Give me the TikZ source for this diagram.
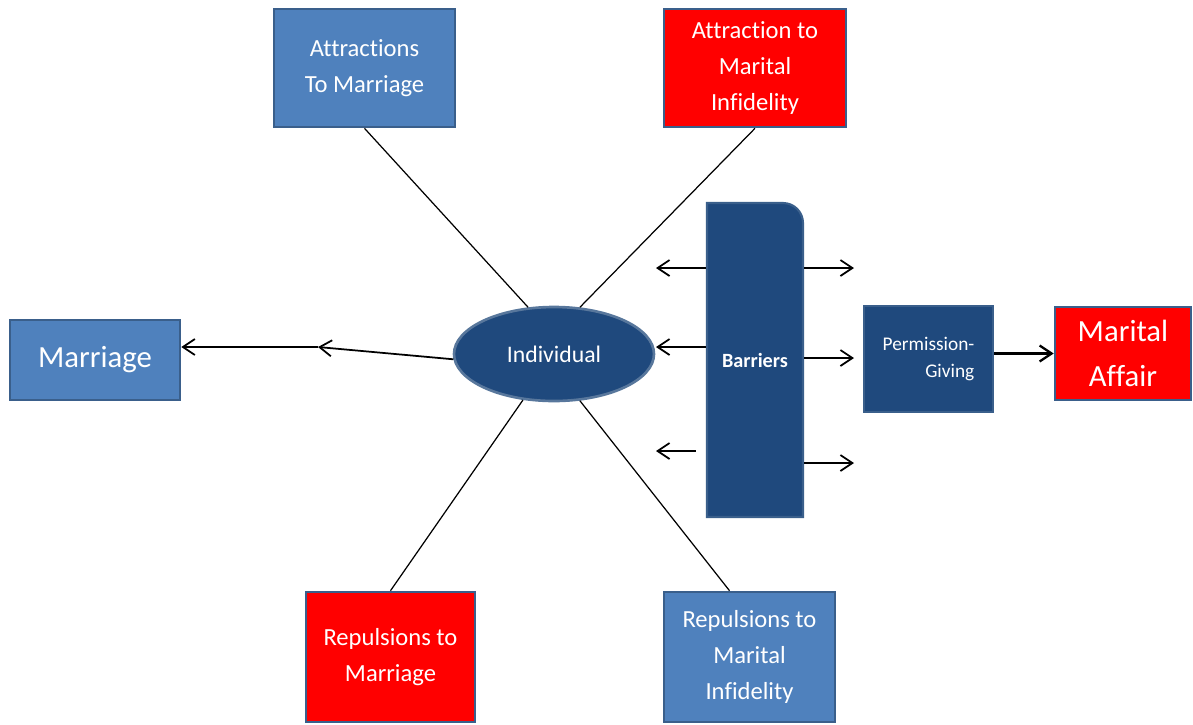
\documentclass[tikz,border=0pt]{standalone}
\usepackage{fontspec}
\setmainfont{Carlito}[Ligatures=NoCommon]
\usepackage{tikz}
\usetikzlibrary{arrows.meta}
\usetikzlibrary{shapes}

\definecolor{lightbox}{HTML}{4F81BD}
\definecolor{darkbox}{HTML}{1F497D}
\definecolor{edgeblue}{HTML}{3A5F8B}
\definecolor{redbox}{HTML}{FF0000}

\begin{document}
\begin{tikzpicture}[
      box/.style={draw=edgeblue, line width=1.5pt, text=white, align=center,
        inner sep=0pt},
      lightb/.style={box, fill=lightbox},
      darkb/.style={box, fill=darkbox},
      redb/.style={box, fill=redbox},
      lab/.style={font=\fontsize{14}{20.5}\selectfont},
      big/.style={font=\fontsize{17.5}{26}\selectfont},
      arr/.style={-{Straight Barb[length=2.4mm,width=3.2mm]}, line width=1pt},
      spoke/.style={line width=0.7pt}
      ]
    \useasboundingbox (0,0) rectangle (23.86,-14.48);

    \node (ind) [darkb, ellipse, draw=edgeblue!85!white, minimum width=4cm,
      minimum height=1.88cm, font=\fontsize{13.5}{16}\selectfont]
      at (11.08,-7.08) {Individual};

    \node (attrM) [lightb, lab, minimum width=3.62cm, minimum height=2.36cm]
      at (7.29,-1.36) {Attractions\\To Marriage};
    \node (attrI) [redb, lab, minimum width=3.64cm, minimum height=2.36cm]
      at (15.10,-1.36) {Attraction to\\Marital\\Infidelity};
    \node (marriage) [lightb, big, minimum width=3.4cm, minimum height=1.6cm]
      at (1.90,-7.20) {Marriage};
    \node (repM) [redb, lab, minimum width=3.38cm, minimum height=2.6cm]
      at (7.81,-13.14) {Repulsions to\\Marriage};
    \node (repI) [lightb, lab, minimum width=3.42cm, minimum height=2.6cm]
      at (14.99,-13.14) {Repulsions to\\Marital\\Infidelity};

    % barriers, only the top right corner is rounded
    \path [fill=darkbox, draw=edgeblue, line width=1.2pt]
      (14.14,-10.34) -- (14.14,-4.06) [rounded corners=0.4cm] --
      (16.06,-4.06) [sharp corners] -- (16.06,-10.34) -- cycle
      (15.10,-7.20) node (barriers) [minimum width=1.92cm, minimum height=6.28cm,
        inner sep=0pt, text=white, font=\bfseries\fontsize{11.5}{13}\selectfont]
      {Barriers};

    \node (perm) [darkb, align=right, minimum width=2.58cm, minimum height=2.12cm,
      font=\fontsize{11}{15.3}\selectfont] at (18.57,-7.18) {Permission-\\Giving};
    \node (affair) [redb, big, minimum width=2.72cm, minimum height=1.86cm]
      at (22.46,-7.07) {Marital\\Affair};

    % spokes
    \draw [spoke] (attrM.south) -- (ind.119);
    \draw [spoke] (attrI.south) -- (ind.61);
    \draw [spoke] (repM.north) -- (ind.236);
    \draw [spoke] ([xshift=-0.4cm]repI.north) -- (ind.299);

    \coordinate (mid) at (6.36,-6.94);
    \draw [arr] (ind.183) -- (mid);
    \draw [arr] (mid) -- (marriage.east |- mid);

    % arrows out of the barriers
    \coordinate (l1) at (13.12,-5.36);
    \coordinate (l2) at (13.12,-6.94);
    \coordinate (l3) at (13.12,-9.02);
    \coordinate (r1) at (17.08,-5.36);
    \coordinate (r2) at (17.08,-7.16);
    \coordinate (r3) at (17.08,-9.26);
    \draw [arr] (barriers.west |- l1) -- (l1);
    \draw [arr] (barriers.west |- l2) -- (l2);
    \draw [arr] ([xshift=-0.2cm]barriers.west |- l3) -- (l3);
    \draw [arr] (barriers.east |- r1) -- (r1);
    \draw [arr] (barriers.east |- r2) -- (r2);
    \draw [arr] (barriers.east |- r3) -- (r3);

    \draw [arr, line width=1.3pt] (perm.east |- affair) -- (affair.west);
  \end{tikzpicture}
\end{document}
